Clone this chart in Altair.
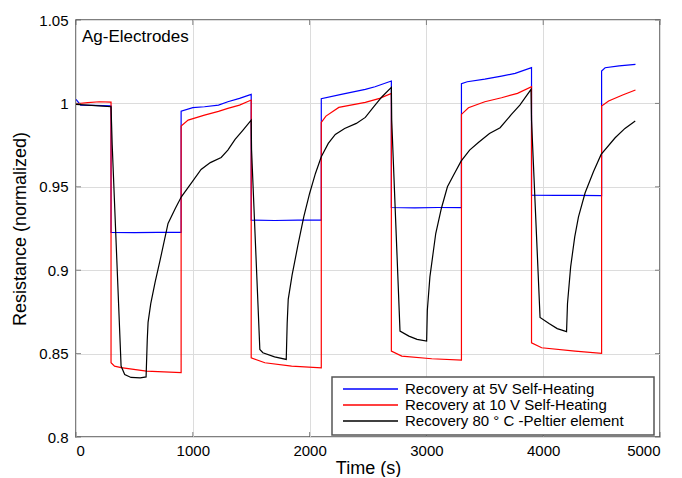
import altair as alt
import pandas as pd

# ---------------- data ----------------
names = ["Recovery at 5V Self-Heating",
         "Recovery at 10 V Self-Heating",
         "Recovery 80 ° C -Peltier element"]
colors = ["#0000ff", "#ff0000", "#000000"]

t_5v = [0, 40, 150, 300, 300, 500, 700, 900, 900, 1000, 1100, 1220, 1300, 1400, 1500,
        1500, 1700, 1900, 2100, 2100, 2271, 2477, 2560, 2700,
        2700, 2900, 3100, 3300, 3300, 3350, 3500, 3643, 3760, 3900,
        3900, 4100, 4300, 4500, 4500, 4530, 4650, 4790]
r_5v = [1.0024, 0.9990, 0.9988, 0.9985, 0.9227, 0.9225, 0.9227, 0.9227, 0.9954, 0.9975, 0.9980, 0.9990, 1.0010, 1.0030, 1.0054,
        0.9300, 0.9298, 0.9300, 0.9300, 1.0028, 1.0054, 1.0084, 1.0100, 1.0134,
        0.9376, 0.9374, 0.9376, 0.9375, 1.0118, 1.0130, 1.0145, 1.0164, 1.0180, 1.0214,
        0.9450, 0.9448, 0.9449, 0.9447, 1.0194, 1.0214, 1.0225, 1.0234]

t_10v = [0, 100, 200, 300, 300, 330, 386, 603, 900, 900, 960, 1100, 1220, 1300, 1400, 1500,
         1500, 1617, 1846, 2100, 2100, 2140, 2250, 2477, 2600, 2700,
         2700, 2789, 3046, 3300, 3300, 3360, 3500, 3643, 3780, 3900,
         3900, 3987, 4273, 4500, 4500, 4560, 4680, 4790]
r_10v = [0.9998, 1.0005, 1.0010, 1.0008, 0.8445, 0.8425, 0.8416, 0.8395, 0.8386, 0.9864, 0.9900, 0.9930, 0.9952, 0.9970, 0.9990, 1.0020,
         0.8475, 0.8445, 0.8425, 0.8415, 0.9886, 0.9924, 0.9976, 1.0006, 1.0030, 1.0060,
         0.8515, 0.8485, 0.8469, 0.8461, 0.9934, 0.9974, 1.0010, 1.0034, 1.0060, 1.0100,
         0.8565, 0.8535, 0.8515, 0.8501, 0.9984, 1.0014, 1.0050, 1.0080]

t_pel = [0, 100, 200, 300, 310, 386, 417, 471, 550, 600, 610, 617, 640, 677, 720, 788, 850, 902, 990,
         1071, 1150, 1243, 1300, 1362, 1430, 1500,
         1503, 1574, 1600, 1700, 1800, 1808, 1817, 1850, 1900, 1950, 2000, 2050, 2100, 2160, 2220,
         2300, 2400, 2477, 2550, 2620, 2700,
         2703, 2774, 2850, 2920, 3002, 3008, 3030, 3080, 3128, 3180, 3240, 3297, 3370, 3445, 3540,
         3631, 3728, 3800, 3896,
         3900, 3973, 4050, 4120, 4200, 4208, 4235, 4270, 4302, 4359, 4430, 4496, 4616, 4700, 4788]
r_pel = [0.9994, 0.9990, 0.9985, 0.9980, 0.9750, 0.8425, 0.8375, 0.8357, 0.8355, 0.8360, 0.8580, 0.8687, 0.8800, 0.8927, 0.9060, 0.9280, 0.9370, 0.9440, 0.9525,
         0.9604, 0.9645, 0.9676, 0.9720, 0.9784, 0.9840, 0.9900,
         0.9724, 0.8525, 0.8505, 0.8480, 0.8465, 0.8680, 0.8825, 0.8970, 0.9150, 0.9320, 0.9460, 0.9580, 0.9680, 0.9760, 0.9814,
         0.9850, 0.9880, 0.9916, 0.9980, 1.0040, 1.0096,
         0.9900, 0.8635, 0.8605, 0.8585, 0.8575, 0.8760, 0.8960, 0.9220, 0.9370, 0.9500, 0.9580, 0.9654, 0.9720, 0.9766, 0.9820,
         0.9854, 0.9934, 0.9990, 1.0084,
         0.9900, 0.8717, 0.8680, 0.8650, 0.8632, 0.8800, 0.9020, 0.9200, 0.9320, 0.9464, 0.9590, 0.9694, 0.9794, 0.9850, 0.9894]

x_ticks = [0, 1000, 2000, 3000, 4000, 5000]
y_ticks = [0.8, 0.85, 0.9, 0.95, 1.0, 1.05]
panel_label = "Ag-Electrodes"

# ---------------- build table ----------------
rows = []
for name, ts, rs in [(names[0], t_5v, r_5v), (names[1], t_10v, r_10v), (names[2], t_pel, r_pel)]:
    for i, (t, r) in enumerate(zip(ts, rs)):
        rows.append({"series": name, "t": t, "r": r, "i": i})
df = pd.DataFrame(rows)

W, H = 584, 417
FONT = "Liberation Sans"

xscale = alt.Scale(domain=[0, 5000], nice=False)
yscale = alt.Scale(domain=[0.8, 1.05], nice=False, zero=False)

lines = alt.Chart(df).mark_line(strokeWidth=1.2, clip=True).encode(
    x=alt.X("t:Q", scale=xscale,
            axis=alt.Axis(values=x_ticks, format="d", title="Time (s)",
                          labelPadding=6, titlePadding=1)),
    y=alt.Y("r:Q", scale=yscale,
            axis=alt.Axis(values=y_ticks, format="~g", title="Resistance (normalized)",
                          labelPadding=8, titlePadding=9)),
    color=alt.Color("series:N", scale=alt.Scale(domain=names, range=colors), legend=None),
    order=alt.Order("i:Q"),
)

tick_color = "#555555"
xt = pd.DataFrame({"t": x_ticks})
yt = pd.DataFrame({"r": y_ticks})
ticks_bottom = alt.Chart(xt).mark_tick(orient="vertical", size=5, thickness=1, color=tick_color).encode(
    x=alt.X("t:Q", scale=xscale), y=alt.value(H - 2.5))
ticks_top = alt.Chart(xt).mark_tick(orient="vertical", size=5, thickness=1, color=tick_color).encode(
    x=alt.X("t:Q", scale=xscale), y=alt.value(2.5))
ticks_left = alt.Chart(yt).mark_tick(orient="horizontal", size=5, thickness=1, color=tick_color).encode(
    y=alt.Y("r:Q", scale=yscale), x=alt.value(2.5))
ticks_right = alt.Chart(yt).mark_tick(orient="horizontal", size=5, thickness=1, color=tick_color).encode(
    y=alt.Y("r:Q", scale=yscale), x=alt.value(W - 2.5))

label = alt.Chart(pd.DataFrame({"txt": [panel_label]})).mark_text(
    align="left", baseline="middle", fontSize=17, font=FONT, color="black"
).encode(x=alt.value(6), y=alt.value(17), text="txt:N")

# ---------------- manual legend ----------------
box = alt.Chart(pd.DataFrame({"a": [0]})).mark_rect(
    fill="white", stroke="#555555", strokeWidth=1.5
).encode(x=alt.value(256), x2=alt.value(578), y=alt.value(357), y2=alt.value(415))

legend_layers = [box]
row_y = [369, 385, 401]
for name, col, yy in zip(names, colors, row_y):
    d = pd.DataFrame({"name": [name]})
    legend_layers.append(
        alt.Chart(d).mark_rule(color=col, strokeWidth=1.5).encode(
            x=alt.value(267), x2=alt.value(322), y=alt.value(yy)))
    legend_layers.append(
        alt.Chart(d).mark_text(align="left", baseline="middle", fontSize=15, font=FONT, color="black").encode(
            x=alt.value(329), y=alt.value(yy), text="name:N"))

chart = alt.layer(
    lines, ticks_bottom, ticks_top, ticks_left, ticks_right, label, *legend_layers
).properties(
    width=W, height=H,
    padding={"left": 68, "top": 12, "right": 12, "bottom": 40},
    autosize=alt.AutoSizeParams(type="none"),
).configure_view(
    stroke="#555555", strokeWidth=1.5
).configure_axis(
    grid=True, gridColor="#dcdcdc", gridWidth=1,
    domain=False, ticks=False,
    labelFont=FONT, labelFontSize=15, labelColor="black",
    titleFont=FONT, titleFontSize=18, titleFontWeight="normal", titleColor="black",
)

chart.save("out.html", embed_options={"renderer": "svg", "actions": False})
